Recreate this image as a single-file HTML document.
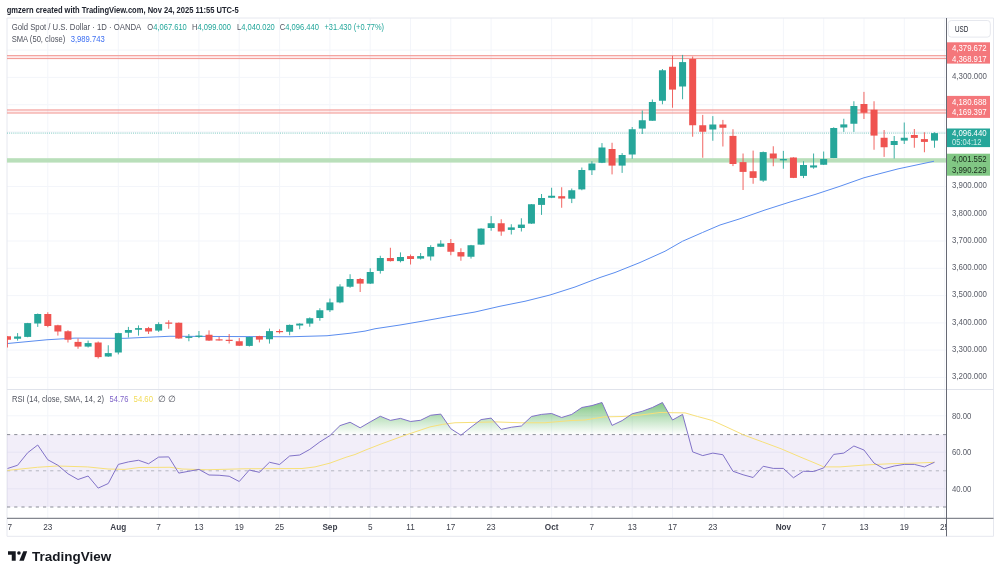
<!DOCTYPE html>
<html lang="en"><head><meta charset="utf-8"><title>XAUUSD chart</title>
<style>html,body{margin:0;padding:0;background:#fff}body{width:1000px;height:576px;overflow:hidden;font-family:"Liberation Sans", Arial, sans-serif}svg{display:block}text{font-family:"Liberation Sans", Arial, sans-serif}</style></head><body>
<svg width="1000" height="576" viewBox="0 0 1000 576">
<rect width="1000" height="576" fill="#fff"/>
<defs><clipPath id="cp"><rect x="7" y="18" width="939.5" height="500.29999999999995"/></clipPath>
<clipPath id="c70"><rect x="7" y="390" width="939.5" height="44.60000000000002"/></clipPath>
<linearGradient id="gg" x1="0" y1="400" x2="0" y2="434.6" gradientUnits="userSpaceOnUse"><stop offset="0" stop-color="#4caf50" stop-opacity="0.75"/><stop offset="1" stop-color="#4caf50" stop-opacity="0"/></linearGradient>
<clipPath id="ct"><rect x="8" y="518.3" width="938.0" height="18.0"/></clipPath></defs>
<path d="M47.8 18 V518.3 M118.3 18 V518.3 M158.6 18 V518.3 M198.9 18 V518.3 M239.2 18 V518.3 M279.6 18 V518.3 M329.9 18 V518.3 M370.2 18 V518.3 M410.5 18 V518.3 M450.8 18 V518.3 M491.1 18 V518.3 M551.6 18 V518.3 M591.9 18 V518.3 M632.2 18 V518.3 M672.5 18 V518.3 M712.8 18 V518.3 M783.4 18 V518.3 M823.7 18 V518.3 M864.0 18 V518.3 M904.3 18 V518.3 M944.6 18 V518.3 M7 50.1 H946.5 M7 77.4 H946.5 M7 104.7 H946.5 M7 131.9 H946.5 M7 159.2 H946.5 M7 186.5 H946.5 M7 213.8 H946.5 M7 241.0 H946.5 M7 268.3 H946.5 M7 295.6 H946.5 M7 322.9 H946.5 M7 350.1 H946.5 M7 377.4 H946.5 M7 415.8 H946.5 M7 452.2 H946.5 M7 488.8 H946.5" stroke="#f3f5fa" stroke-width="1" fill="none"/>
<path d="M7 18 H993.5 V536.3 H7 Z" stroke="#e6e8ef" stroke-width="1" fill="none"/>
<path d="M7 389.5 H993.5" stroke="#e0e3eb" stroke-width="1" fill="none"/>
<g clip-path="url(#cp)">
<rect x="7" y="55.67" width="939.5" height="2.93" fill="rgba(242,54,69,0.10)"/><path d="M7 55.67 H946.5 M7 58.60 H946.5" stroke="#f29590" stroke-width="1" fill="none"/>
<rect x="7" y="109.94" width="939.5" height="3.08" fill="rgba(242,54,69,0.10)"/><path d="M7 109.94 H946.5 M7 113.02 H946.5" stroke="#f29590" stroke-width="1" fill="none"/>
<rect x="7" y="158.20" width="939.5" height="4.40" fill="#b9dfba"/>
<path d="M7 133.1 H946.5" stroke="#26a69a" stroke-width="1" stroke-dasharray="1 1.1" fill="none" opacity="0.6"/>
<polyline points="7.5,343.50 47.0,339.75 75.0,338.10 125.0,338.30 170.0,336.25 245.0,336.60 290.0,336.75 327.0,335.75 350.0,333.25 365.0,331.10 375.0,328.75 400.0,325.00 425.0,320.75 450.0,316.25 475.0,312.00 500.0,306.25 525.0,301.25 550.0,295.00 575.0,287.00 590.0,281.25 600.0,277.50 615.0,272.50 640.0,262.50 665.0,251.25 682.5,241.25 702.5,232.50 720.0,225.00 740.0,218.75 765.0,210.00 790.0,202.00 815.0,194.50 840.0,186.25 864.0,177.75 898.0,168.90 934.0,161.25" fill="none" stroke="#5b8def" stroke-width="1" stroke-linejoin="round"/>
<path d="M7.50 336.25 V347.50" stroke="#ef5350" stroke-width="0.9"/>
<rect x="4.00" y="336.25" width="7" height="3.50" fill="#ef5350"/>
<path d="M17.58 333.10 V340.60" stroke="#26a69a" stroke-width="0.9"/>
<rect x="14.08" y="336.50" width="7" height="2.25" fill="#26a69a"/>
<path d="M27.65 322.90 V337.25" stroke="#26a69a" stroke-width="0.9"/>
<rect x="24.15" y="323.10" width="7" height="13.80" fill="#26a69a"/>
<path d="M37.73 313.50 V326.90" stroke="#26a69a" stroke-width="0.9"/>
<rect x="34.23" y="314.00" width="7" height="9.50" fill="#26a69a"/>
<path d="M47.80 312.25 V327.25" stroke="#ef5350" stroke-width="0.9"/>
<rect x="44.30" y="314.00" width="7" height="12.00" fill="#ef5350"/>
<path d="M57.88 324.75 V335.60" stroke="#ef5350" stroke-width="0.9"/>
<rect x="54.38" y="325.25" width="7" height="6.25" fill="#ef5350"/>
<path d="M67.96 330.25 V342.50" stroke="#ef5350" stroke-width="0.9"/>
<rect x="64.46" y="331.25" width="7" height="8.50" fill="#ef5350"/>
<path d="M78.03 338.50 V348.75" stroke="#ef5350" stroke-width="0.9"/>
<rect x="74.53" y="341.90" width="7" height="4.70" fill="#ef5350"/>
<path d="M88.11 340.60 V347.50" stroke="#26a69a" stroke-width="0.9"/>
<rect x="84.61" y="343.10" width="7" height="3.50" fill="#26a69a"/>
<path d="M98.18 341.50 V358.50" stroke="#ef5350" stroke-width="0.9"/>
<rect x="94.68" y="342.50" width="7" height="14.60" fill="#ef5350"/>
<path d="M108.26 345.25 V356.90" stroke="#26a69a" stroke-width="0.9"/>
<rect x="104.76" y="353.10" width="7" height="3.40" fill="#26a69a"/>
<path d="M118.34 332.75 V354.40" stroke="#26a69a" stroke-width="0.9"/>
<rect x="114.84" y="333.10" width="7" height="19.40" fill="#26a69a"/>
<path d="M128.41 326.90 V337.50" stroke="#26a69a" stroke-width="0.9"/>
<rect x="124.91" y="330.00" width="7" height="2.75" fill="#26a69a"/>
<path d="M138.49 325.40 V335.60" stroke="#26a69a" stroke-width="0.9"/>
<rect x="134.99" y="328.10" width="7" height="1.65" fill="#26a69a"/>
<path d="M148.56 326.90 V334.00" stroke="#ef5350" stroke-width="0.9"/>
<rect x="145.06" y="328.10" width="7" height="3.40" fill="#ef5350"/>
<path d="M158.64 322.25 V331.90" stroke="#26a69a" stroke-width="0.9"/>
<rect x="155.14" y="324.10" width="7" height="6.50" fill="#26a69a"/>
<path d="M168.72 320.25 V328.75" stroke="#ef5350" stroke-width="0.9"/>
<rect x="165.22" y="322.50" width="7" height="1.25" fill="#ef5350"/>
<path d="M178.79 322.50 V338.75" stroke="#ef5350" stroke-width="0.9"/>
<rect x="175.29" y="322.75" width="7" height="15.75" fill="#ef5350"/>
<path d="M188.87 334.00 V341.25" stroke="#26a69a" stroke-width="0.9"/>
<rect x="185.37" y="336.60" width="7" height="1.30" fill="#26a69a"/>
<path d="M198.94 331.00 V338.10" stroke="#26a69a" stroke-width="0.9"/>
<rect x="195.44" y="335.60" width="7" height="1.30" fill="#26a69a"/>
<path d="M209.02 330.40 V341.00" stroke="#ef5350" stroke-width="0.9"/>
<rect x="205.52" y="334.75" width="7" height="5.85" fill="#ef5350"/>
<path d="M219.10 336.90 V340.60" stroke="#ef5350" stroke-width="0.9"/>
<rect x="215.60" y="339.30" width="7" height="1.20" fill="#ef5350"/>
<path d="M229.17 334.00 V343.50" stroke="#ef5350" stroke-width="0.9"/>
<rect x="225.67" y="339.77" width="7" height="1.20" fill="#ef5350"/>
<path d="M239.25 338.10 V346.00" stroke="#ef5350" stroke-width="0.9"/>
<rect x="235.75" y="341.25" width="7" height="4.50" fill="#ef5350"/>
<path d="M249.32 336.75 V346.50" stroke="#26a69a" stroke-width="0.9"/>
<rect x="245.82" y="337.00" width="7" height="8.90" fill="#26a69a"/>
<path d="M259.40 335.75 V342.40" stroke="#ef5350" stroke-width="0.9"/>
<rect x="255.90" y="336.10" width="7" height="3.50" fill="#ef5350"/>
<path d="M269.48 328.60 V343.60" stroke="#26a69a" stroke-width="0.9"/>
<rect x="265.98" y="331.10" width="7" height="8.15" fill="#26a69a"/>
<path d="M279.55 329.25 V333.60" stroke="#ef5350" stroke-width="0.9"/>
<rect x="276.05" y="331.00" width="7" height="1.20" fill="#ef5350"/>
<path d="M289.63 324.50 V335.25" stroke="#26a69a" stroke-width="0.9"/>
<rect x="286.13" y="324.90" width="7" height="6.85" fill="#26a69a"/>
<path d="M299.70 323.25 V329.25" stroke="#26a69a" stroke-width="0.9"/>
<rect x="296.20" y="323.60" width="7" height="1.90" fill="#26a69a"/>
<path d="M309.78 317.40 V326.75" stroke="#26a69a" stroke-width="0.9"/>
<rect x="306.28" y="318.25" width="7" height="5.35" fill="#26a69a"/>
<path d="M319.86 308.25 V320.75" stroke="#26a69a" stroke-width="0.9"/>
<rect x="316.36" y="310.25" width="7" height="7.75" fill="#26a69a"/>
<path d="M329.93 298.60 V312.00" stroke="#26a69a" stroke-width="0.9"/>
<rect x="326.43" y="302.40" width="7" height="7.85" fill="#26a69a"/>
<path d="M340.01 284.25 V303.25" stroke="#26a69a" stroke-width="0.9"/>
<rect x="336.51" y="286.50" width="7" height="15.90" fill="#26a69a"/>
<path d="M350.08 274.25 V287.75" stroke="#26a69a" stroke-width="0.9"/>
<rect x="346.58" y="279.00" width="7" height="7.75" fill="#26a69a"/>
<path d="M360.16 278.00 V292.00" stroke="#ef5350" stroke-width="0.9"/>
<rect x="356.66" y="279.00" width="7" height="4.60" fill="#ef5350"/>
<path d="M370.24 268.25 V284.00" stroke="#26a69a" stroke-width="0.9"/>
<rect x="366.74" y="272.00" width="7" height="11.60" fill="#26a69a"/>
<path d="M380.31 255.75 V273.60" stroke="#26a69a" stroke-width="0.9"/>
<rect x="376.81" y="258.00" width="7" height="12.90" fill="#26a69a"/>
<path d="M390.39 247.75 V261.50" stroke="#ef5350" stroke-width="0.9"/>
<rect x="386.89" y="258.00" width="7" height="3.10" fill="#ef5350"/>
<path d="M400.46 252.40 V262.40" stroke="#26a69a" stroke-width="0.9"/>
<rect x="396.96" y="257.00" width="7" height="4.10" fill="#26a69a"/>
<path d="M410.54 254.50 V264.50" stroke="#ef5350" stroke-width="0.9"/>
<rect x="407.04" y="256.10" width="7" height="2.90" fill="#ef5350"/>
<path d="M420.62 253.00 V259.50" stroke="#26a69a" stroke-width="0.9"/>
<rect x="417.12" y="256.10" width="7" height="2.50" fill="#26a69a"/>
<path d="M430.69 245.25 V260.50" stroke="#26a69a" stroke-width="0.9"/>
<rect x="427.19" y="247.00" width="7" height="9.50" fill="#26a69a"/>
<path d="M440.77 240.25 V247.00" stroke="#26a69a" stroke-width="0.9"/>
<rect x="437.27" y="243.60" width="7" height="3.15" fill="#26a69a"/>
<path d="M450.84 239.00 V255.25" stroke="#ef5350" stroke-width="0.9"/>
<rect x="447.34" y="243.00" width="7" height="8.75" fill="#ef5350"/>
<path d="M460.92 248.25 V260.75" stroke="#ef5350" stroke-width="0.9"/>
<rect x="457.42" y="252.10" width="7" height="4.40" fill="#ef5350"/>
<path d="M471.00 244.90 V258.60" stroke="#26a69a" stroke-width="0.9"/>
<rect x="467.50" y="245.25" width="7" height="11.50" fill="#26a69a"/>
<path d="M481.07 228.25 V244.90" stroke="#26a69a" stroke-width="0.9"/>
<rect x="477.57" y="228.60" width="7" height="16.00" fill="#26a69a"/>
<path d="M491.15 216.10 V230.75" stroke="#26a69a" stroke-width="0.9"/>
<rect x="487.65" y="223.25" width="7" height="4.75" fill="#26a69a"/>
<path d="M501.22 219.25 V235.75" stroke="#ef5350" stroke-width="0.9"/>
<rect x="497.72" y="223.25" width="7" height="8.25" fill="#ef5350"/>
<path d="M511.30 224.25 V234.50" stroke="#26a69a" stroke-width="0.9"/>
<rect x="507.80" y="227.40" width="7" height="2.50" fill="#26a69a"/>
<path d="M521.38 218.25 V231.50" stroke="#26a69a" stroke-width="0.9"/>
<rect x="517.88" y="224.60" width="7" height="3.40" fill="#26a69a"/>
<path d="M531.45 204.00 V223.90" stroke="#26a69a" stroke-width="0.9"/>
<rect x="527.95" y="204.25" width="7" height="19.35" fill="#26a69a"/>
<path d="M541.53 194.00 V214.90" stroke="#26a69a" stroke-width="0.9"/>
<rect x="538.03" y="198.00" width="7" height="6.90" fill="#26a69a"/>
<path d="M551.60 187.75 V198.10" stroke="#26a69a" stroke-width="0.9"/>
<rect x="548.10" y="195.75" width="7" height="2.00" fill="#26a69a"/>
<path d="M561.68 187.25 V207.75" stroke="#ef5350" stroke-width="0.9"/>
<rect x="558.18" y="196.20" width="7" height="2.30" fill="#ef5350"/>
<path d="M571.76 188.50 V203.10" stroke="#26a69a" stroke-width="0.9"/>
<rect x="568.26" y="190.25" width="7" height="8.45" fill="#26a69a"/>
<path d="M581.83 167.50 V190.25" stroke="#26a69a" stroke-width="0.9"/>
<rect x="578.33" y="170.00" width="7" height="19.40" fill="#26a69a"/>
<path d="M591.91 161.25 V175.00" stroke="#26a69a" stroke-width="0.9"/>
<rect x="588.41" y="163.50" width="7" height="6.75" fill="#26a69a"/>
<path d="M601.98 143.10 V163.10" stroke="#26a69a" stroke-width="0.9"/>
<rect x="598.48" y="147.50" width="7" height="15.25" fill="#26a69a"/>
<path d="M612.06 142.75 V174.40" stroke="#ef5350" stroke-width="0.9"/>
<rect x="608.56" y="149.00" width="7" height="16.60" fill="#ef5350"/>
<path d="M622.14 153.10 V172.90" stroke="#26a69a" stroke-width="0.9"/>
<rect x="618.64" y="155.00" width="7" height="10.60" fill="#26a69a"/>
<path d="M632.21 127.00 V158.70" stroke="#26a69a" stroke-width="0.9"/>
<rect x="628.71" y="129.25" width="7" height="25.25" fill="#26a69a"/>
<path d="M642.29 110.50 V134.00" stroke="#26a69a" stroke-width="0.9"/>
<rect x="638.79" y="120.25" width="7" height="8.35" fill="#26a69a"/>
<path d="M652.36 99.50 V120.75" stroke="#26a69a" stroke-width="0.9"/>
<rect x="648.86" y="102.00" width="7" height="18.75" fill="#26a69a"/>
<path d="M662.44 69.00 V104.25" stroke="#26a69a" stroke-width="0.9"/>
<rect x="658.94" y="70.25" width="7" height="30.50" fill="#26a69a"/>
<path d="M672.52 55.75 V107.75" stroke="#ef5350" stroke-width="0.9"/>
<rect x="669.02" y="66.75" width="7" height="22.85" fill="#ef5350"/>
<path d="M682.59 54.90 V99.25" stroke="#26a69a" stroke-width="0.9"/>
<rect x="679.09" y="62.10" width="7" height="24.40" fill="#26a69a"/>
<path d="M692.67 56.50 V136.75" stroke="#ef5350" stroke-width="0.9"/>
<rect x="689.17" y="59.00" width="7" height="66.25" fill="#ef5350"/>
<path d="M702.74 114.90 V157.75" stroke="#ef5350" stroke-width="0.9"/>
<rect x="699.24" y="125.25" width="7" height="6.50" fill="#ef5350"/>
<path d="M712.82 116.10 V140.75" stroke="#26a69a" stroke-width="0.9"/>
<rect x="709.32" y="124.50" width="7" height="5.00" fill="#26a69a"/>
<path d="M722.90 119.90 V146.50" stroke="#ef5350" stroke-width="0.9"/>
<rect x="719.40" y="124.50" width="7" height="3.25" fill="#ef5350"/>
<path d="M732.97 129.25 V166.10" stroke="#ef5350" stroke-width="0.9"/>
<rect x="729.47" y="135.90" width="7" height="28.10" fill="#ef5350"/>
<path d="M743.05 153.50 V190.00" stroke="#ef5350" stroke-width="0.9"/>
<rect x="739.55" y="162.10" width="7" height="9.80" fill="#ef5350"/>
<path d="M753.12 150.60 V183.75" stroke="#ef5350" stroke-width="0.9"/>
<rect x="749.62" y="171.25" width="7" height="6.65" fill="#ef5350"/>
<path d="M763.20 151.50 V181.90" stroke="#26a69a" stroke-width="0.9"/>
<rect x="759.70" y="152.10" width="7" height="28.50" fill="#26a69a"/>
<path d="M773.28 146.25 V166.25" stroke="#ef5350" stroke-width="0.9"/>
<rect x="769.78" y="153.50" width="7" height="5.00" fill="#ef5350"/>
<path d="M783.35 150.90 V168.75" stroke="#26a69a" stroke-width="0.9"/>
<rect x="779.85" y="159.00" width="7" height="1.40" fill="#26a69a"/>
<path d="M793.43 157.25 V178.10" stroke="#ef5350" stroke-width="0.9"/>
<rect x="789.93" y="157.50" width="7" height="20.40" fill="#ef5350"/>
<path d="M803.50 161.25 V178.10" stroke="#26a69a" stroke-width="0.9"/>
<rect x="800.00" y="165.00" width="7" height="10.90" fill="#26a69a"/>
<path d="M813.58 153.50 V168.75" stroke="#26a69a" stroke-width="0.9"/>
<rect x="810.08" y="165.40" width="7" height="2.10" fill="#26a69a"/>
<path d="M823.66 151.50 V165.00" stroke="#26a69a" stroke-width="0.9"/>
<rect x="820.16" y="159.00" width="7" height="5.75" fill="#26a69a"/>
<path d="M833.73 127.25 V158.10" stroke="#26a69a" stroke-width="0.9"/>
<rect x="830.23" y="128.00" width="7" height="30.00" fill="#26a69a"/>
<path d="M843.81 118.75 V131.90" stroke="#26a69a" stroke-width="0.9"/>
<rect x="840.31" y="124.40" width="7" height="3.10" fill="#26a69a"/>
<path d="M853.88 101.25 V131.90" stroke="#26a69a" stroke-width="0.9"/>
<rect x="850.38" y="106.00" width="7" height="17.75" fill="#26a69a"/>
<path d="M863.96 91.90 V119.00" stroke="#ef5350" stroke-width="0.9"/>
<rect x="860.46" y="104.00" width="7" height="8.75" fill="#ef5350"/>
<path d="M874.04 101.25 V149.75" stroke="#ef5350" stroke-width="0.9"/>
<rect x="870.54" y="109.75" width="7" height="25.85" fill="#ef5350"/>
<path d="M884.11 130.00 V156.90" stroke="#ef5350" stroke-width="0.9"/>
<rect x="880.61" y="137.75" width="7" height="9.50" fill="#ef5350"/>
<path d="M894.19 136.00 V158.50" stroke="#26a69a" stroke-width="0.9"/>
<rect x="890.69" y="141.00" width="7" height="4.00" fill="#26a69a"/>
<path d="M904.26 122.50 V144.00" stroke="#26a69a" stroke-width="0.9"/>
<rect x="900.76" y="137.75" width="7" height="2.85" fill="#26a69a"/>
<path d="M914.34 129.00 V147.75" stroke="#ef5350" stroke-width="0.9"/>
<rect x="910.84" y="135.00" width="7" height="2.90" fill="#ef5350"/>
<path d="M924.42 132.25 V152.25" stroke="#ef5350" stroke-width="0.9"/>
<rect x="920.92" y="139.10" width="7" height="2.80" fill="#ef5350"/>
<path d="M934.49 132.25 V147.75" stroke="#26a69a" stroke-width="0.9"/>
<rect x="930.99" y="133.10" width="7" height="7.50" fill="#26a69a"/>
<rect x="7" y="434.6" width="939.5" height="72.4" fill="#7e57c2" fill-opacity="0.1"/>
<g clip-path="url(#c70)"><polygon points="7.50,440 7.50,468.50 17.58,465.25 27.65,452.75 37.73,445.00 47.80,459.75 57.88,465.25 67.96,473.75 78.03,479.50 88.11,476.00 98.18,488.10 108.26,483.50 118.34,464.40 128.41,461.90 138.49,460.25 148.56,463.75 158.64,457.10 168.72,456.90 178.79,473.10 188.87,471.25 198.94,469.40 209.02,475.00 219.10,475.25 229.17,476.25 239.25,481.50 249.32,470.00 259.40,472.30 269.48,462.25 279.55,464.50 289.63,456.00 299.70,455.00 309.78,449.40 319.86,441.90 329.93,435.60 340.01,425.60 350.08,422.25 360.16,427.80 370.24,421.90 380.31,416.25 390.39,420.40 400.46,418.40 410.54,421.50 420.62,420.25 430.69,415.25 440.77,414.10 450.84,428.75 460.92,435.25 471.00,427.20 481.07,419.60 491.15,418.10 501.22,429.40 511.30,427.25 521.38,426.00 531.45,416.50 541.53,414.40 551.60,413.50 561.68,417.50 571.76,414.40 581.83,407.50 591.91,405.60 601.98,402.50 612.06,425.40 622.14,420.60 632.21,413.75 642.29,411.25 652.36,407.50 662.44,402.50 672.52,420.00 682.59,414.40 692.67,451.90 702.74,455.60 712.82,453.10 722.90,454.75 732.97,471.25 743.05,474.75 753.12,477.50 763.20,466.25 773.28,468.40 783.35,468.40 793.43,477.75 803.50,471.25 813.58,471.50 823.66,467.90 833.73,454.40 843.81,453.10 853.88,446.00 863.96,450.00 874.04,463.10 884.11,468.75 894.19,466.00 904.26,464.40 914.34,464.40 924.42,466.90 934.49,462.25 934.49,440" fill="url(#gg)"/></g>
<path d="M7 434.6 H946.5 M7 507 H946.5" stroke="#8a8d97" stroke-width="1" stroke-dasharray="3.2 4" fill="none"/>
<path d="M7 470.8 H946.5" stroke="#b4b6c0" stroke-width="1" stroke-dasharray="3.2 4" fill="none"/>
<polyline points="7.5,470.40 37.5,467.25 57.5,466.00 87.5,466.90 108.0,469.00 125.0,469.40 139.0,467.50 170.0,467.25 182.0,469.00 207.0,469.75 245.0,468.75 302.0,468.50 315.0,466.90 330.0,463.10 346.0,457.25 355.0,454.50 365.0,450.25 380.0,444.40 405.0,435.25 430.0,426.90 442.5,424.40 455.0,422.75 480.0,422.25 495.0,421.90 520.0,422.75 545.0,422.75 570.0,420.60 585.0,420.00 604.0,416.90 622.0,416.50 641.0,415.00 660.0,412.50 685.0,412.90 697.5,416.50 705.0,418.50 712.5,420.60 725.0,426.25 743.8,435.00 762.5,441.90 781.0,448.75 800.0,456.90 815.0,463.10 823.8,466.90 840.0,466.90 865.0,465.00 890.0,463.75 915.0,463.10 934.5,462.30" fill="none" stroke="#f7e07a" stroke-width="1" stroke-linejoin="round"/>
<polyline points="7.50,468.50 17.58,465.25 27.65,452.75 37.73,445.00 47.80,459.75 57.88,465.25 67.96,473.75 78.03,479.50 88.11,476.00 98.18,488.10 108.26,483.50 118.34,464.40 128.41,461.90 138.49,460.25 148.56,463.75 158.64,457.10 168.72,456.90 178.79,473.10 188.87,471.25 198.94,469.40 209.02,475.00 219.10,475.25 229.17,476.25 239.25,481.50 249.32,470.00 259.40,472.30 269.48,462.25 279.55,464.50 289.63,456.00 299.70,455.00 309.78,449.40 319.86,441.90 329.93,435.60 340.01,425.60 350.08,422.25 360.16,427.80 370.24,421.90 380.31,416.25 390.39,420.40 400.46,418.40 410.54,421.50 420.62,420.25 430.69,415.25 440.77,414.10 450.84,428.75 460.92,435.25 471.00,427.20 481.07,419.60 491.15,418.10 501.22,429.40 511.30,427.25 521.38,426.00 531.45,416.50 541.53,414.40 551.60,413.50 561.68,417.50 571.76,414.40 581.83,407.50 591.91,405.60 601.98,402.50 612.06,425.40 622.14,420.60 632.21,413.75 642.29,411.25 652.36,407.50 662.44,402.50 672.52,420.00 682.59,414.40 692.67,451.90 702.74,455.60 712.82,453.10 722.90,454.75 732.97,471.25 743.05,474.75 753.12,477.50 763.20,466.25 773.28,468.40 783.35,468.40 793.43,477.75 803.50,471.25 813.58,471.50 823.66,467.90 833.73,454.40 843.81,453.10 853.88,446.00 863.96,450.00 874.04,463.10 884.11,468.75 894.19,466.00 904.26,464.40 914.34,464.40 924.42,466.90 934.49,462.25" fill="none" stroke="#8172c8" stroke-width="1" stroke-linejoin="round"/>
</g>
<path d="M946.5 18 V536.3" stroke="#666974" stroke-width="1" fill="none"/>
<path d="M7 518.3 H993.5" stroke="#666974" stroke-width="1" fill="none"/>
<text x="6.7" y="12.6" font-size="8.4" fill="#20242f" font-weight="bold" text-anchor="start" textLength="232.0" lengthAdjust="spacingAndGlyphs">gmzern created with TradingView.com, Nov 24, 2025 11:55 UTC-5</text>
<text x="11.7" y="30.1" font-size="8.6" fill="#50535e" font-weight="normal" text-anchor="start" textLength="129.6" lengthAdjust="spacingAndGlyphs">Gold Spot / U.S. Dollar · 1D · OANDA</text>
<text x="147.3" y="30.1" font-size="8.6" textLength="39.5" lengthAdjust="spacingAndGlyphs"><tspan fill="#50535e">O</tspan><tspan fill="#22a69a">4,067.610</tspan></text>
<text x="192.0" y="30.1" font-size="8.6" textLength="39.0" lengthAdjust="spacingAndGlyphs"><tspan fill="#50535e">H</tspan><tspan fill="#22a69a">4,099.000</tspan></text>
<text x="237.0" y="30.1" font-size="8.6" textLength="37.8" lengthAdjust="spacingAndGlyphs"><tspan fill="#50535e">L</tspan><tspan fill="#22a69a">4,040.020</tspan></text>
<text x="279.8" y="30.1" font-size="8.6" textLength="39.1" lengthAdjust="spacingAndGlyphs"><tspan fill="#50535e">C</tspan><tspan fill="#22a69a">4,096.440</tspan></text>
<text x="324.5" y="30.1" font-size="8.6" fill="#22a69a" font-weight="normal" text-anchor="start" textLength="59.5" lengthAdjust="spacingAndGlyphs">+31.430 (+0.77%)</text>
<text x="11.7" y="41.6" font-size="8.6" fill="#50535e" font-weight="normal" text-anchor="start" textLength="53.7" lengthAdjust="spacingAndGlyphs">SMA (50, close)</text>
<text x="70.7" y="41.6" font-size="8.6" fill="#3d6ff2" font-weight="normal" text-anchor="start" textLength="34.1" lengthAdjust="spacingAndGlyphs">3,989.743</text>
<text x="12.0" y="402.1" font-size="8.6" fill="#50535e" font-weight="normal" text-anchor="start" textLength="92.0" lengthAdjust="spacingAndGlyphs">RSI (14, close, SMA, 14, 2)</text>
<text x="109.6" y="402.1" font-size="8.6" fill="#7e63c8" font-weight="normal" text-anchor="start" textLength="18.8" lengthAdjust="spacingAndGlyphs">54.76</text>
<text x="133.6" y="402.1" font-size="8.6" fill="#f2dc5a" font-weight="normal" text-anchor="start" textLength="19.4" lengthAdjust="spacingAndGlyphs">54.60</text>
<text x="158.0" y="402.1" font-size="8.6" fill="#50535e" font-weight="normal" text-anchor="start">∅</text>
<text x="168.0" y="402.1" font-size="8.6" fill="#50535e" font-weight="normal" text-anchor="start">∅</text>
<text x="952.0" y="79.1" font-size="8.7" fill="#5a5d68" font-weight="normal" text-anchor="start" textLength="35.0" lengthAdjust="spacingAndGlyphs">4,300.000</text>
<text x="952.0" y="188.2" font-size="8.7" fill="#5a5d68" font-weight="normal" text-anchor="start" textLength="35.0" lengthAdjust="spacingAndGlyphs">3,900.000</text>
<text x="952.0" y="215.5" font-size="8.7" fill="#5a5d68" font-weight="normal" text-anchor="start" textLength="35.0" lengthAdjust="spacingAndGlyphs">3,800.000</text>
<text x="952.0" y="242.8" font-size="8.7" fill="#5a5d68" font-weight="normal" text-anchor="start" textLength="35.0" lengthAdjust="spacingAndGlyphs">3,700.000</text>
<text x="952.0" y="270.0" font-size="8.7" fill="#5a5d68" font-weight="normal" text-anchor="start" textLength="35.0" lengthAdjust="spacingAndGlyphs">3,600.000</text>
<text x="952.0" y="297.3" font-size="8.7" fill="#5a5d68" font-weight="normal" text-anchor="start" textLength="35.0" lengthAdjust="spacingAndGlyphs">3,500.000</text>
<text x="952.0" y="324.6" font-size="8.7" fill="#5a5d68" font-weight="normal" text-anchor="start" textLength="35.0" lengthAdjust="spacingAndGlyphs">3,400.000</text>
<text x="952.0" y="351.8" font-size="8.7" fill="#5a5d68" font-weight="normal" text-anchor="start" textLength="35.0" lengthAdjust="spacingAndGlyphs">3,300.000</text>
<text x="952.0" y="379.1" font-size="8.7" fill="#5a5d68" font-weight="normal" text-anchor="start" textLength="35.0" lengthAdjust="spacingAndGlyphs">3,200.000</text>
<text x="952.0" y="418.8" font-size="8.7" fill="#5a5d68" font-weight="normal" text-anchor="start" textLength="19.4" lengthAdjust="spacingAndGlyphs">80.00</text>
<text x="952.0" y="455.2" font-size="8.7" fill="#5a5d68" font-weight="normal" text-anchor="start" textLength="19.4" lengthAdjust="spacingAndGlyphs">60.00</text>
<text x="952.0" y="491.8" font-size="8.7" fill="#5a5d68" font-weight="normal" text-anchor="start" textLength="19.4" lengthAdjust="spacingAndGlyphs">40.00</text>
<rect x="948.3" y="20.5" width="42" height="16.6" rx="3" fill="#fff" stroke="#e6e8ee" stroke-width="1"/>
<text x="955.0" y="31.9" font-size="8.2" fill="#1e222d" font-weight="normal" text-anchor="start" textLength="13.4" lengthAdjust="spacingAndGlyphs">USD</text>
<rect x="947" y="42.3" width="43" height="21.3" fill="#f4777b"/><text x="952.0" y="51.3" font-size="8.7" fill="#fff" font-weight="normal" text-anchor="start" textLength="34.6" lengthAdjust="spacingAndGlyphs">4,379.672</text><text x="952.0" y="62.1" font-size="8.7" fill="#fff" font-weight="normal" text-anchor="start" textLength="34.6" lengthAdjust="spacingAndGlyphs">4,368.917</text>
<rect x="947" y="95.9" width="43" height="22.0" fill="#f4777b"/><text x="952.0" y="104.7" font-size="8.7" fill="#fff" font-weight="normal" text-anchor="start" textLength="34.6" lengthAdjust="spacingAndGlyphs">4,180.688</text><text x="952.0" y="115.4" font-size="8.7" fill="#fff" font-weight="normal" text-anchor="start" textLength="34.6" lengthAdjust="spacingAndGlyphs">4,169.397</text>
<rect x="947" y="128.5" width="43" height="18.6" fill="#26a69a"/><text x="952.0" y="136.1" font-size="8.7" fill="#fff" font-weight="normal" text-anchor="start" textLength="34.6" lengthAdjust="spacingAndGlyphs">4,096.440</text><text x="952.0" y="145.2" font-size="8.7" fill="#c9ece8" font-weight="normal" text-anchor="start" textLength="29.5" lengthAdjust="spacingAndGlyphs">05:04:12</text>
<rect x="947" y="153.7" width="43" height="22.0" fill="#81c784"/><text x="952.0" y="161.7" font-size="8.7" fill="#1a2a1c" font-weight="normal" text-anchor="start" textLength="34.6" lengthAdjust="spacingAndGlyphs">4,001.552</text><text x="952.0" y="172.6" font-size="8.7" fill="#1a2a1c" font-weight="normal" text-anchor="start" textLength="34.6" lengthAdjust="spacingAndGlyphs">3,990.229</text>
<g clip-path="url(#ct)">
<text x="7.5" y="529.8" font-size="8.2" fill="#3c3f4a" font-weight="normal" text-anchor="middle">17</text>
<text x="47.8" y="529.8" font-size="8.2" fill="#3c3f4a" font-weight="normal" text-anchor="middle">23</text>
<text x="118.3" y="529.8" font-size="8.2" fill="#3c3f4a" font-weight="bold" text-anchor="middle">Aug</text>
<text x="158.6" y="529.8" font-size="8.2" fill="#3c3f4a" font-weight="normal" text-anchor="middle">7</text>
<text x="198.9" y="529.8" font-size="8.2" fill="#3c3f4a" font-weight="normal" text-anchor="middle">13</text>
<text x="239.2" y="529.8" font-size="8.2" fill="#3c3f4a" font-weight="normal" text-anchor="middle">19</text>
<text x="279.6" y="529.8" font-size="8.2" fill="#3c3f4a" font-weight="normal" text-anchor="middle">25</text>
<text x="329.9" y="529.8" font-size="8.2" fill="#3c3f4a" font-weight="bold" text-anchor="middle">Sep</text>
<text x="370.2" y="529.8" font-size="8.2" fill="#3c3f4a" font-weight="normal" text-anchor="middle">5</text>
<text x="410.5" y="529.8" font-size="8.2" fill="#3c3f4a" font-weight="normal" text-anchor="middle">11</text>
<text x="450.8" y="529.8" font-size="8.2" fill="#3c3f4a" font-weight="normal" text-anchor="middle">17</text>
<text x="491.1" y="529.8" font-size="8.2" fill="#3c3f4a" font-weight="normal" text-anchor="middle">23</text>
<text x="551.6" y="529.8" font-size="8.2" fill="#3c3f4a" font-weight="bold" text-anchor="middle">Oct</text>
<text x="591.9" y="529.8" font-size="8.2" fill="#3c3f4a" font-weight="normal" text-anchor="middle">7</text>
<text x="632.2" y="529.8" font-size="8.2" fill="#3c3f4a" font-weight="normal" text-anchor="middle">13</text>
<text x="672.5" y="529.8" font-size="8.2" fill="#3c3f4a" font-weight="normal" text-anchor="middle">17</text>
<text x="712.8" y="529.8" font-size="8.2" fill="#3c3f4a" font-weight="normal" text-anchor="middle">23</text>
<text x="783.4" y="529.8" font-size="8.2" fill="#3c3f4a" font-weight="bold" text-anchor="middle">Nov</text>
<text x="823.7" y="529.8" font-size="8.2" fill="#3c3f4a" font-weight="normal" text-anchor="middle">7</text>
<text x="864.0" y="529.8" font-size="8.2" fill="#3c3f4a" font-weight="normal" text-anchor="middle">13</text>
<text x="904.3" y="529.8" font-size="8.2" fill="#3c3f4a" font-weight="normal" text-anchor="middle">19</text>
<text x="944.6" y="529.8" font-size="8.2" fill="#3c3f4a" font-weight="normal" text-anchor="middle">25</text>
</g>
<g fill="#15181f"><path d="M8 551.2 H15.7 V560.8 H11.75 V554.8 H8 Z"/><circle cx="18.95" cy="552.95" r="1.8"/><path d="M23.3 551.2 H27.2 L23.8 560.8 H19.3 Z"/></g>
<text x="32.1" y="560.8" font-size="13.1" fill="#15181f" font-weight="bold" text-anchor="start" textLength="79.2" lengthAdjust="spacingAndGlyphs">TradingView</text>
</svg></body></html>
